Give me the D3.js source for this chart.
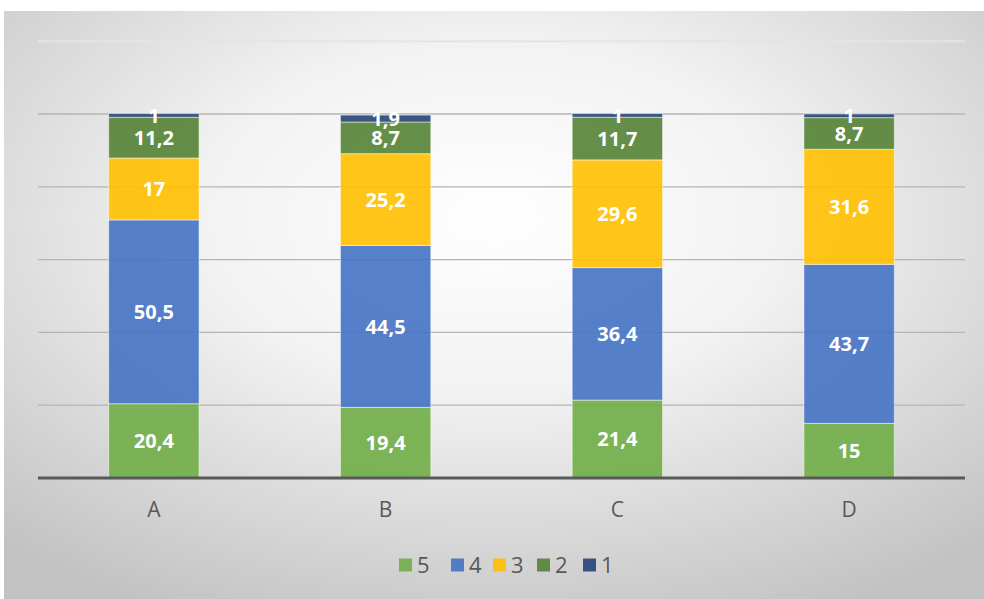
<!DOCTYPE html>
<html><head><meta charset="utf-8">
<script src="https://cdn.jsdelivr.net/npm/d3@7"></script>
<style>body{margin:0;background:#fff;}svg{display:block;}</style>
</head><body>
<script>
const categories = ["A","B","C","D"];
const seriesNames = ["5","4","3","2","1"];
const v5 = [20.4, 19.4, 21.4, 15];
const v4 = [50.5, 44.5, 36.4, 43.7];
const v3 = [17, 25.2, 29.6, 31.6];
const v2 = [11.2, 8.7, 11.7, 8.7];
const v1 = [1, 1.9, 1, 1];
const labels5 = ["20,4","19,4","21,4","15"];
const labels4 = ["50,5","44,5","36,4","43,7"];
const labels3 = ["17","25,2","29,6","31,6"];
const labels2 = ["11,2","8,7","11,7","8,7"];
const labels1 = ["1","1,9","1","1"];
const yTicks = [0,20,40,60,80,100,120];

const colors = ["#70AD47","#4472C4","#FFC000","#548235","#264478"];
const values = [v5,v4,v3,v2,v1];
const labels = [labels5,labels4,labels3,labels2,labels1];

const W=984,H=599;
const svg=d3.select("body").append("svg").attr("width",W).attr("height",H);
const defs=svg.append("defs");
const rg=defs.append("radialGradient").attr("id","bg").attr("cx","50%").attr("cy","35%").attr("r","75%");
rg.append("stop").attr("offset","0%").attr("stop-color","#ffffff");
rg.append("stop").attr("offset","40%").attr("stop-color","#f2f2f2");
rg.append("stop").attr("offset","100%").attr("stop-color","#c2c2c2");
svg.append("rect").attr("x",4).attr("y",11).attr("width",W-4).attr("height",H-11).attr("fill","url(#bg)");

const x=d3.scaleBand().domain(categories).range([38,965]).paddingInner(0.61).paddingOuter(0.305);
const y=d3.scaleLinear().domain([0,120]).range([478,41.2]);

// gridlines
svg.append("g").selectAll("line").data(yTicks.filter(t=>t>0)).join("line")
 .attr("x1",38).attr("x2",965).attr("y1",d=>y(d)).attr("y2",d=>y(d))
 .attr("stroke",d=>d===120?"#e4e4e4":"#b4b4b4").attr("stroke-width",d=>d===120?2:1.3);

const stack=[];
categories.forEach((c,i)=>{let acc=0;values.forEach((s,k)=>{stack.push({c,k,y0:acc,y1:acc+s[i],lab:labels[k][i]});acc+=s[i];});});

svg.append("g").selectAll("rect").data(stack).join("rect")
 .attr("x",d=>x(d.c)).attr("width",x.bandwidth())
 .attr("y",d=>y(d.y1)).attr("height",d=>y(d.y0)-y(d.y1))
 .attr("fill",d=>colors[d.k]).attr("fill-opacity",0.9)
 .attr("stroke","#ffffff").attr("stroke-opacity",0.5).attr("stroke-width",1);

svg.append("g").selectAll("text").data(stack).join("text")
 .attr("x",d=>x(d.c)+x.bandwidth()/2).attr("y",d=>(y(d.y0)+y(d.y1))/2)
 .attr("dy","0.36em").attr("text-anchor","middle")
 .attr("font-family","'Open Sans',sans-serif").attr("font-weight","bold").attr("font-size",20)
 .attr("fill","#ffffff").text(d=>d.lab);

// baseline
svg.append("line").attr("x1",38).attr("x2",965).attr("y1",y(0)).attr("y2",y(0))
 .attr("stroke","#595959").attr("stroke-width",3);

// x axis labels
const xa=svg.append("g").attr("transform",`translate(0,${y(0)})`).call(d3.axisBottom(x).tickSize(0));
xa.select(".domain").remove();
xa.selectAll("text").attr("y",31.5).attr("dy","0.36em").attr("font-family","'Open Sans',sans-serif").attr("font-size",21).attr("fill","#595959");

// legend
const legX=[399,451,493,537,583];
const lg=svg.append("g").selectAll("g").data(seriesNames).join("g").attr("transform",(d,i)=>`translate(${legX[i]},565)`);
lg.append("rect").attr("x",0).attr("y",-6.5).attr("width",13).attr("height",13).attr("fill",(d,i)=>colors[i]).attr("fill-opacity",0.9);
lg.append("text").attr("x",18).attr("dy","0.36em").attr("font-family","'Open Sans',sans-serif").attr("font-size",22).attr("fill","#595959").text(d=>d);
</script>
</body></html>
